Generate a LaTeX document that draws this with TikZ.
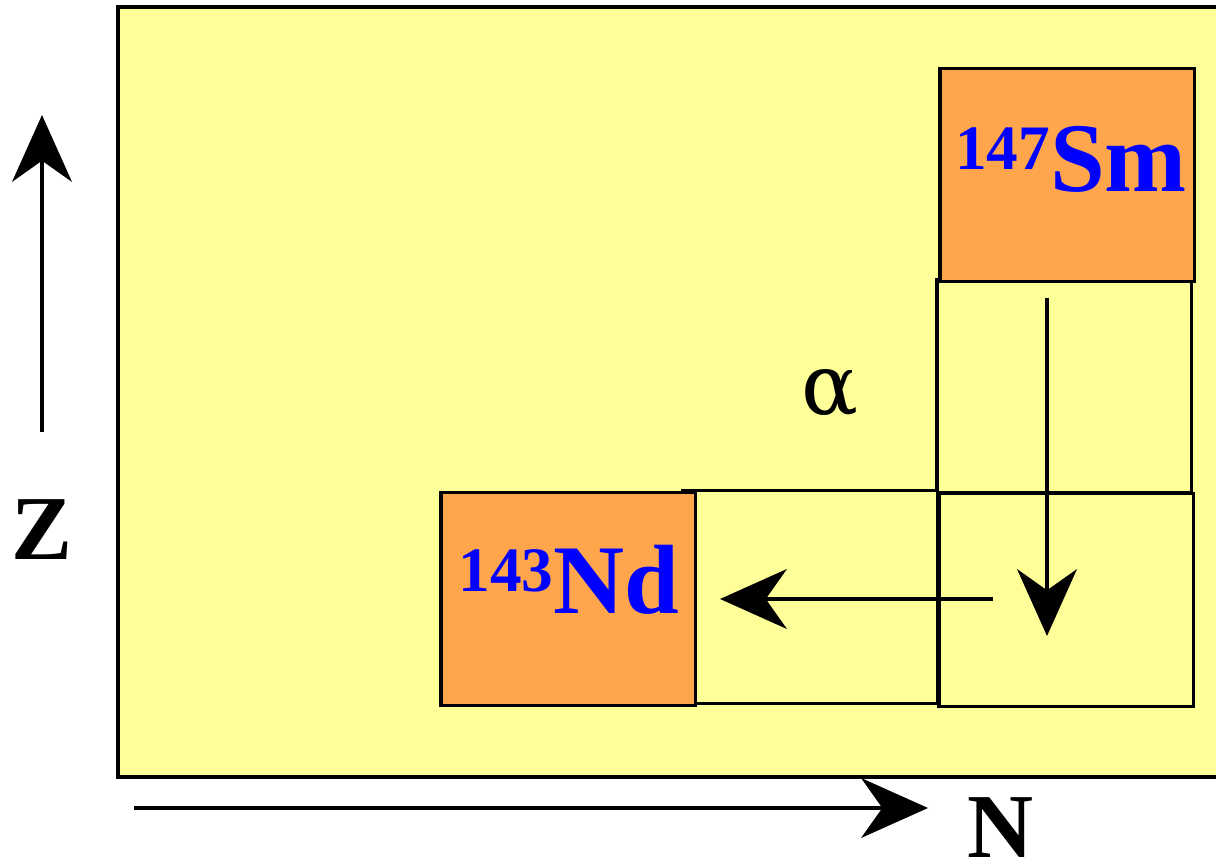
\documentclass[tikz,border=0pt]{standalone}
\usepackage{fontspec}
\setmainfont{Liberation Serif}
\newfontfamily\greekfont{DejaVu Serif}
\usetikzlibrary{arrows.meta}
\definecolor{chartbg}{HTML}{FFFF99}
\definecolor{nuclide}{HTML}{FFA64D}
\begin{document}
\begin{tikzpicture}[x=0.01cm, y=-0.01cm,
    cell/.style={draw, line width=0.9pt, inner sep=0pt, minimum width=2.54cm, minimum height=2.13cm},
    decay/.style={line width=0.9pt, -{Stealth[length=19pt, width=17pt, inset=6pt]}},
    bigtext/.style={inner sep=0pt, font=\fontsize{26}{26}\selectfont\bfseries}]
    \useasboundingbox (0,0) rectangle (1216,868);
    % Chart background
    \fill[chartbg, draw=black, line width=0.9pt] (118,7) rectangle (1225,777);
    % Axes
    \coordinate (zfrom) at (42,432);
    \coordinate (zto) at (42,115);
    \coordinate (nfrom) at (134,808);
    \coordinate (nto) at (928,808);
    \draw[decay] (zfrom) -- (zto);
    \draw[decay] (nfrom) -- (nto);
    \node[bigtext] (zlabel) at (42,530) {Z};
    \node[bigtext] (nlabel) at (1000,828) {N};
    % Cells
    \node[cell, fill=chartbg] (smdown) at (1064,386) {};
    \node[cell, fill=chartbg] (corner) at (1066,600) {};
    \node[cell, fill=chartbg] (mid) at (810,597) {};
    \node[cell, fill=nuclide] (sm) at (1067,175) {};
    \node[cell, fill=nuclide] (nd) at (568,599) {};
    % Labels
    \node[anchor=base, blue, font=\fontsize{28}{28}\selectfont\bfseries] (smname) at (1071,192)
        {\raisebox{6.3pt}{\fontsize{18}{18}\selectfont 147}Sm};
    \node[anchor=base, blue, font=\fontsize{28}{28}\selectfont\bfseries] (ndname) at (569,614)
        {\raisebox{6.3pt}{\fontsize{18}{18}\selectfont 143}Nd};
    \node[font=\greekfont\fontsize{24}{24}\selectfont] (alpha) at (830,393) {α};
    % Decay path
    \coordinate (downfrom) at (1047,298);
    \coordinate (downto) at (1047,636);
    \coordinate (leftfrom) at (993,599);
    \coordinate (leftto) at (720,599);
    \draw[decay] (downfrom) -- (downto);
    \draw[decay] (leftfrom) -- (leftto);
\end{tikzpicture}
\end{document}
